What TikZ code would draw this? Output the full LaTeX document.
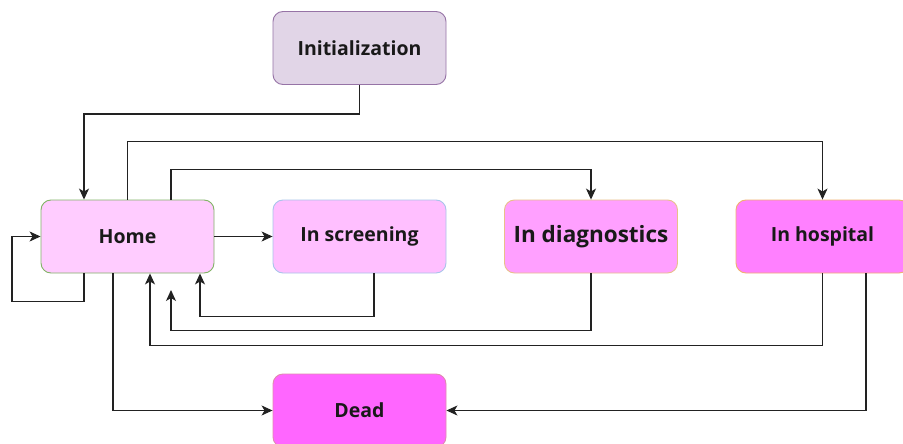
\documentclass[tikz,border=0pt]{standalone}
\usepackage{fontspec}
\setmainfont{Open Sans}
\usetikzlibrary{arrows.meta}
\definecolor{initfill}{HTML}{E1D5E7}
\definecolor{initdraw}{HTML}{9673A6}
\definecolor{homefill}{HTML}{FFCCFF}
\definecolor{homedraw}{HTML}{82B366}
\definecolor{scrfill}{HTML}{FFBFFF}
\definecolor{scrdraw}{HTML}{A9C4EB}
\definecolor{diagfill}{HTML}{FFA0FF}
\definecolor{diagdraw}{HTML}{E8C08A}
\definecolor{hospfill}{HTML}{FF80FF}
\definecolor{hospdraw}{HTML}{F0B070}
\definecolor{deadfill}{HTML}{FF66FF}
\definecolor{deaddraw}{HTML}{E08AB0}
\definecolor{linec}{HTML}{222222}
\tikzset{
  statebox/.style={rounded corners=10pt, minimum width=173pt, minimum height=73pt, inner sep=0pt, line width=0.9pt, font=\fontsize{19.5}{22}\selectfont\bfseries, text=black!90},
  arr/.style={draw=linec, line width=1.1pt, -{Stealth[length=11pt,width=10pt,inset=3pt]}},
}
\begin{document}
\begin{tikzpicture}[x=1pt,y=-1pt]
\useasboundingbox (0,0) rectangle (903,444);
\clip (0,0) rectangle (903,444);
\fill[white] (0,0) rectangle (903,444);
\node[statebox, fill=initfill, draw=initdraw] (init) at (359.5,48) {Initialization};
\node[statebox, fill=homefill, draw=homedraw] (home) at (127.5,236.5) {Home};
\node[statebox, fill=scrfill, draw=scrdraw] (scr) at (359.5,236.5) {In screening};
\node[statebox, fill=diagfill, draw=diagdraw, font=\fontsize{22.5}{25}\selectfont\bfseries] (diag) at (591,236.5) {In diagnostics};
\node[statebox, fill=hospfill, draw=hospdraw] (hosp) at (822.5,236.5) {In hospital};
\node[statebox, fill=deadfill, draw=deaddraw] (dead) at (359.5,410.5) {Dead};
\coordinate (tip) at (171,290);
% connectors
\draw[arr] (init.south) -- ++(0,29) -| ([xshift=-43.5pt]home.north);
\draw[arr] (home.north) -- ++(0,-58) -| (hosp.north);
\draw[arr] ([xshift=43.5pt]home.north) -- ++(0,-30) -| (diag.north);
\draw[arr] (home.east) -- (scr.west);
\draw[arr] ([xshift=-43.5pt]home.south) -- ++(0,28) -- ++(-72,0) |- (home.west);
\draw[arr] ([xshift=14.5pt]scr.south) -- ++(0,43) -| ([xshift=72.5pt]home.south);
\draw[arr] (diag.south) -- ++(0,57) -| (tip);
\draw[arr] (hosp.south) -- ++(0,72) -| ([xshift=22.5pt]home.south);
\draw[arr] ([xshift=43.5pt]hosp.south) |- (dead.east);
\draw[arr] ([xshift=-14.5pt]home.south) |- (dead.west);
\end{tikzpicture}
\end{document}
